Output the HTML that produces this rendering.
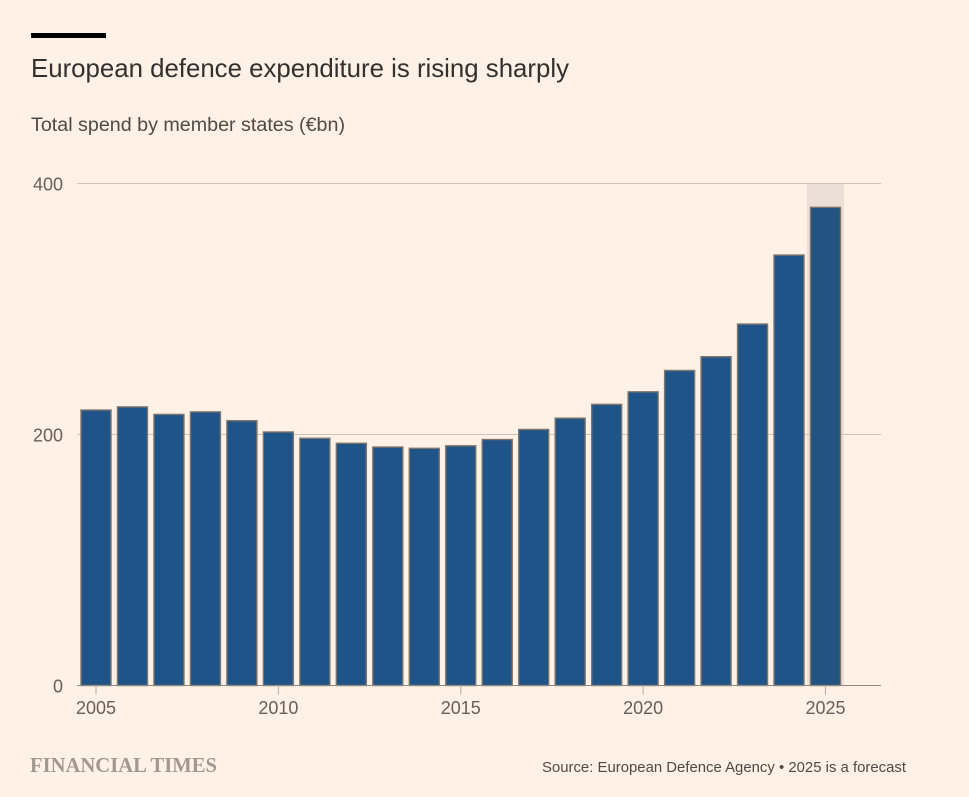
<!DOCTYPE html>
<html lang="en">
<head>
<meta charset="utf-8">
<title>European defence expenditure is rising sharply</title>
<style>
html,body{margin:0;padding:0;background:#fff1e5;}
body{width:969px;height:797px;overflow:hidden;position:relative;}
svg{position:absolute;left:0;top:0;display:block;}
text{font-family:"Liberation Sans",sans-serif;}
</style>
</head>
<body>
<svg id="chart" width="969" height="797" viewBox="0 0 969 797" xmlns="http://www.w3.org/2000/svg">
  <rect x="31" y="33" width="75" height="5" fill="#000000"/>
  <text x="31" y="77" font-size="26" fill="#33302e" textLength="538" lengthAdjust="spacingAndGlyphs">European defence expenditure is rising sharply</text>
  <text x="31" y="131" font-size="19" fill="#4f4a46" textLength="314" lengthAdjust="spacingAndGlyphs">Total spend by member states (€bn)</text>
  <g id="band"></g>
  <g id="grid"></g>
  <g id="bars"></g>
  <g id="xaxis"></g>
  <g id="ylabels"></g>
  <text x="30" y="772" font-size="21" font-weight="700" fill="#a1988e" style="font-family:'Liberation Serif',serif" textLength="187" lengthAdjust="spacingAndGlyphs">FINANCIAL TIMES</text>
  <text x="906" y="772" font-size="15" fill="#4f4a46" text-anchor="end" textLength="364" lengthAdjust="spacingAndGlyphs">Source: European Defence Agency • 2025 is a forecast</text>
</svg>
<script>
const years = [2005,2006,2007,2008,2009,2010,2011,2012,2013,2014,2015,2016,2017,2018,2019,2020,2021,2022,2023,2024,2025];
const spend = [219.5,222,216,218,211,202,197,193,190,189,191,196,204,213,224,234,251,262,288,343,381];
const yTicks = [0,200,400];
const xTicks = [2005,2010,2015,2020,2025];
const forecastYears = [2025];

const NS = 'http://www.w3.org/2000/svg';
function xScale(year){ return 96 + (year - 2005) * 36.475; }
function yScale(v){ return 685.5 - v * 1.255; }
function make(tag, attrs, parent){
  const el = document.createElementNS(NS, tag);
  for (const k in attrs) el.setAttribute(k, attrs[k]);
  parent.appendChild(el);
  return el;
}
const grid = document.getElementById('grid');
const bars = document.getElementById('bars');
const band = document.getElementById('band');
const xaxis = document.getElementById('xaxis');
const ylabels = document.getElementById('ylabels');

yTicks.forEach(function(t){
  if (t === 0) return;
  const line = make('line', {x1:77, x2:881, y1:yScale(t), y2:yScale(t), stroke:'#cfc3b8', 'stroke-width':1}, grid);
  
  
});
yTicks.forEach(function(t){
  const label = make('text', {x:63, y:yScale(t) + 7, 'font-size':18, fill:'#66605c', 'text-anchor':'end'}, ylabels);
  label.textContent = t;
  
  
});
const barWidth = 30;
years.forEach(function(y, i){
  const top = yScale(spend[i]);
  const isForecast = forecastYears.indexOf(y) >= 0;
  const bar = make('rect', {x:xScale(y) - barWidth / 2, y:top, width:barWidth, height:yScale(0) - top, fill:isForecast ? '#225381' : '#1f5489', stroke:'#7d756c', 'stroke-width':1.4}, bars);
  
  
});
forecastYears.forEach(function(y){
  const shade = make('rect', {x:xScale(y) - 18.5, y:yScale(400), width:37, height:yScale(0) - yScale(400), fill:'#ecdfd6'}, band);
  
  
});
const baseline = make('line', {x1:77, x2:881, y1:yScale(0), y2:yScale(0), stroke:'#8f8781', 'stroke-width':1}, xaxis);


xTicks.forEach(function(y){
  const tick = make('line', {x1:xScale(y), x2:xScale(y), y1:yScale(0), y2:yScale(0) + 9, stroke:'#b5aca4', 'stroke-width':1}, xaxis);
  
  
  const label = make('text', {x:xScale(y), y:714, 'font-size':18, fill:'#66605c', 'text-anchor':'middle'}, xaxis);
  label.textContent = y;
  
  
});
</script>
</body>
</html>
